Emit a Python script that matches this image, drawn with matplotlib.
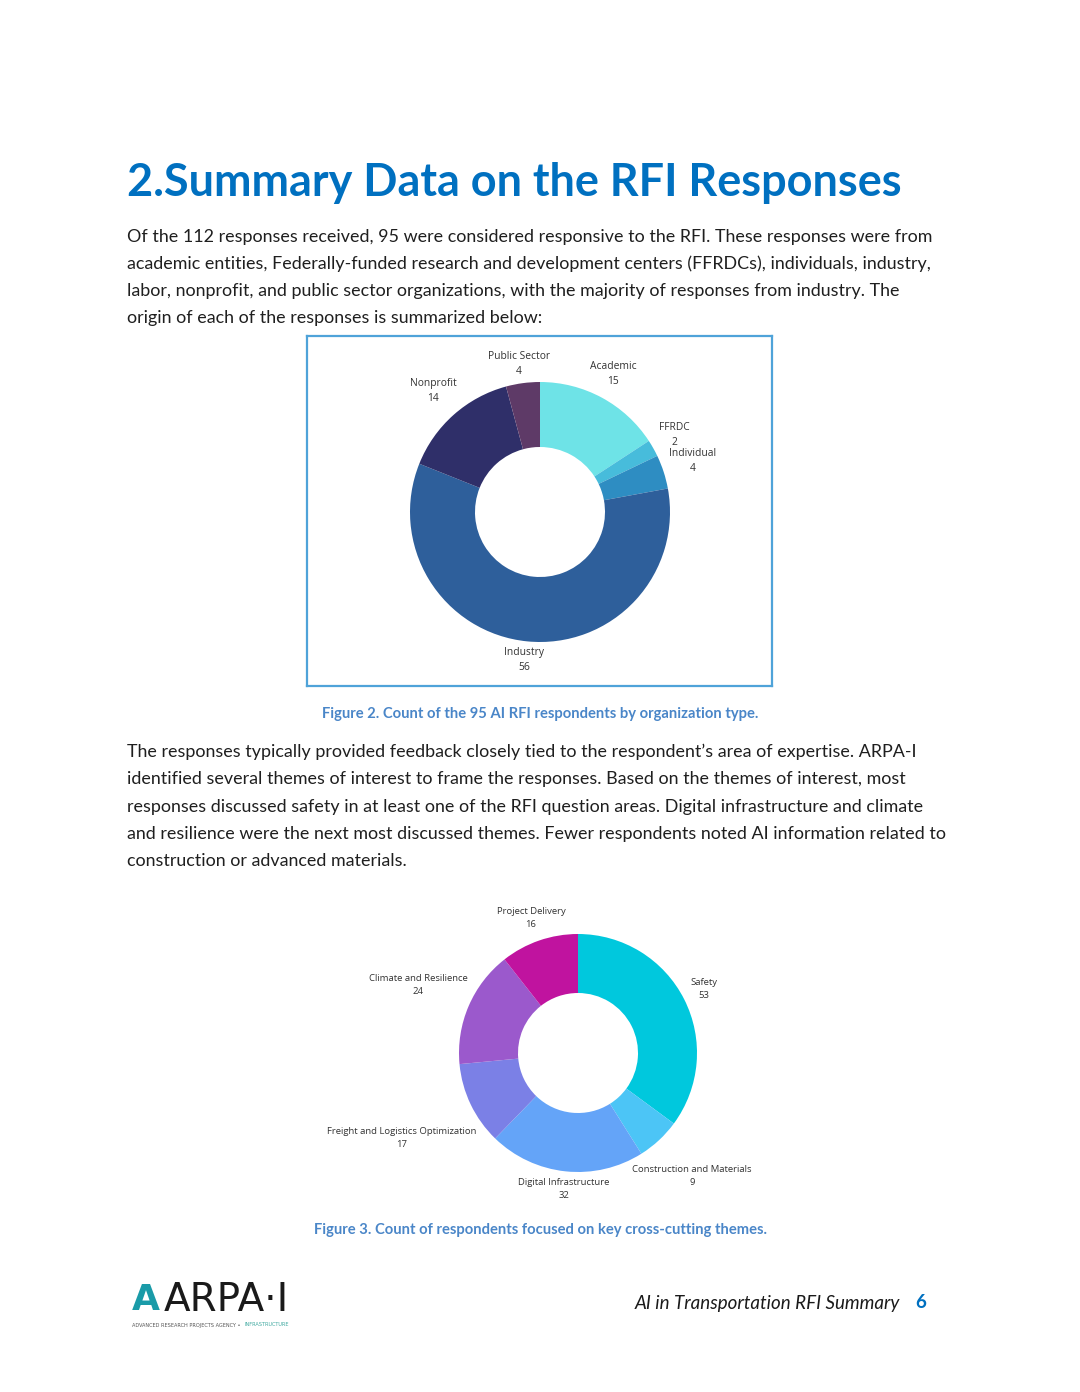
import matplotlib
matplotlib.use("Agg")
import matplotlib.pyplot as plt

W, H = 1080, 1392

# --- data ---
org_types = ["Academic", "FFRDC", "Individual", "Industry", "Nonprofit", "Public Sector"]
org_counts = [15, 2, 4, 56, 14, 4]
org_colors = ["#6EE3E7", "#47BCDB", "#2E8DC2", "#2E5F9B", "#2F2F69", "#5E3A67"]

themes = ["Safety", "Construction and Materials", "Digital Infrastructure",
          "Freight and Logistics Optimization", "Climate and Resilience", "Project Delivery"]
theme_counts = [53, 9, 32, 17, 24, 16]
theme_colors = ["#00C8DD", "#4CC5F6", "#64A4F8", "#7B80E6", "#9B59CC", "#C0139F"]

# label positions (pixels from donut centre, y up)
org_label_pos = [(73, 138), (134, 77), (153, 51), (-16, -148), (-107, 121), (-21, 148)]
theme_label_pos = [(126, 64), (114, -123), (-14, -136), (-176, -85), (-160, 68), (-47, 135)]

para1 = ["Of the 112 responses received, 95 were considered responsive to the RFI. These responses were from",
         "academic entities, Federally-funded research and development centers (FFRDCs), individuals, industry,",
         "labor, nonprofit, and public sector organizations, with the majority of responses from industry. The",
         "origin of each of the responses is summarized below:"]
para2 = ["The responses typically provided feedback closely tied to the respondent\u2019s area of expertise. ARPA-I",
         "identified several themes of interest to frame the responses. Based on the themes of interest, most",
         "responses discussed safety in at least one of the RFI question areas. Digital infrastructure and climate",
         "and resilience were the next most discussed themes. Fewer respondents noted AI information related to",
         "construction or advanced materials."]

BODY = "Lato"
LABEL = "Open Sans"


def fx(x):
    return x / W


def fy(y):
    return 1 - y / H


def donut_axes(fig, left, top, right, bottom, cx, cy):
    ax = fig.add_axes([fx(left), fy(bottom), fx(right - left), (bottom - top) / H])
    return ax, (left - cx, right - cx), (cy - bottom, cy - top)


fig = plt.figure(figsize=(W / 100, H / 100), dpi=100)

# title
fig.text(fx(127), fy(183), "2.Summary Data on the RFI Responses", fontsize=32.4,
         fontweight="bold", color="#0070C0", family=BODY, va="center")

for i, line in enumerate(para1):
    fig.text(fx(127), fy(237 + 27 * i), line, fontsize=12.85, color="#1F1F1F",
             family=BODY, va="center")

# donut 1: organisation types
ax1, xl, yl = donut_axes(fig, 307, 336, 772, 686, 540, 512)
ax1.pie(org_counts, colors=org_colors, radius=130, startangle=90, counterclock=False,
        wedgeprops=dict(width=65, linewidth=0))
for name, n, (px, py) in zip(org_types, org_counts, org_label_pos):
    ax1.text(px, py, f"{name}\n{n}", ha="center", va="center", fontsize=7.4,
             color="#333333", family=LABEL, linespacing=1.5)
ax1.set_xlim(*xl)
ax1.set_ylim(*yl)
ax1.set_aspect("auto")
ax1.set_frame_on(True)
for s in ax1.spines.values():
    s.set_color("#4FA3D9")
    s.set_linewidth(1.6)

fig.text(fx(540), fy(714), "Figure 2. Count of the 95 AI RFI respondents by organization type.",
         fontsize=10.65, fontweight="bold", color="#4A86C8", family=BODY, ha="center", va="center")

for i, line in enumerate(para2):
    fig.text(fx(127), fy(752 + 27.3 * i), line, fontsize=12.85, color="#1F1F1F",
             family=BODY, va="center")

# donut 2: themes
ax2, xl, yl = donut_axes(fig, 300, 895, 780, 1210, 578, 1053)
ax2.pie(theme_counts, colors=theme_colors, radius=119, startangle=90, counterclock=False,
        wedgeprops=dict(width=59, linewidth=0))
for name, n, (px, py) in zip(themes, theme_counts, theme_label_pos):
    ax2.text(px, py, f"{name}\n{n}", ha="center", va="center", fontsize=6.8,
             color="#333333", family=LABEL, linespacing=1.5)
ax2.set_xlim(*xl)
ax2.set_ylim(*yl)
ax2.set_aspect("auto")

fig.text(fx(540), fy(1230), "Figure 3. Count of respondents focused on key cross-cutting themes.",
         fontsize=10.6, fontweight="bold", color="#4A86C8", family=BODY, ha="center", va="center")

# footer
fig.text(fx(132), fy(1300), "A", fontsize=26, fontweight="bold", color="#1A9BA8",
         family="Liberation Sans Narrow", va="center")
fig.text(fx(164), fy(1300), "ARPA\u00b7I", fontsize=28, color="#1A1A1A",
         family="Liberation Sans Narrow", va="center")
small = fig.text(fx(132), fy(1325), "ADVANCED RESEARCH PROJECTS AGENCY \u2022 ", fontsize=3.6,
                 color="#555555", family="DejaVu Sans", va="center")
ax2.annotate("INFRASTRUCTURE", xy=(1, 0.5), xycoords=small, xytext=(2, 0),
             textcoords="offset points", fontsize=3.6, color="#3FA9A0",
             family="DejaVu Sans", va="center", annotation_clip=False)
fig.text(fx(900), fy(1303), "AI in Transportation RFI Summary", fontsize=13.5,
         style="italic", color="#1A1A1A", family=BODY, ha="right", va="center")
fig.text(fx(921), fy(1303), "6", fontsize=13.5, fontweight="bold", color="#0070C0",
         family=BODY, ha="center", va="center")

fig.savefig("out.png", dpi=100)
